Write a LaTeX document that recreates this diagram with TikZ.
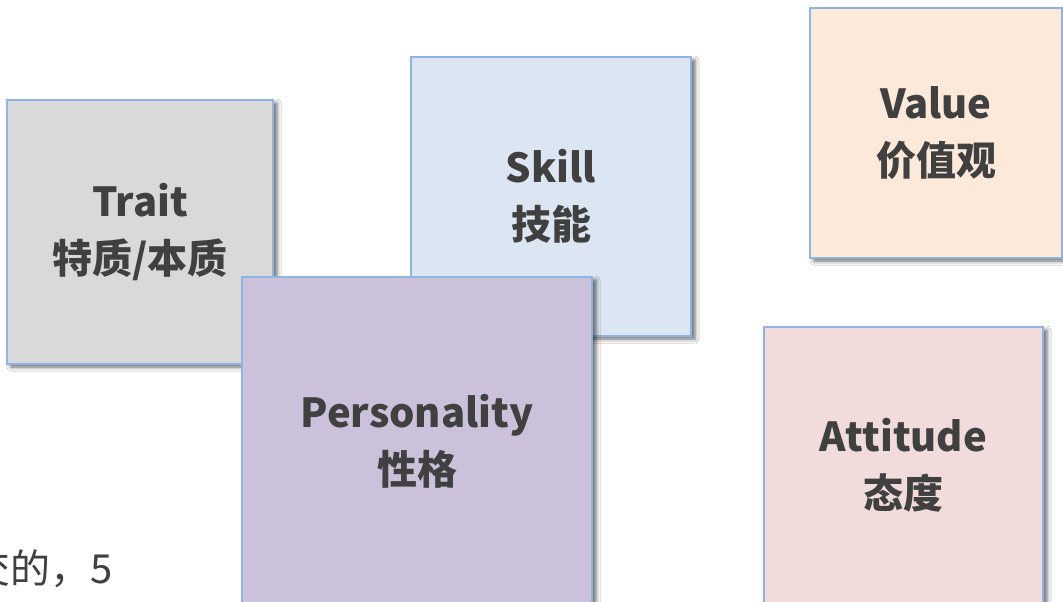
\documentclass[tikz,border=0pt]{standalone}
\usepackage{fontspec}
\newfontfamily\cjk{Noto Sans CJK SC}
\usetikzlibrary{shadows.blur}
\definecolor{txt}{HTML}{404040}
\definecolor{edge}{HTML}{8EB4E3}
\definecolor{fTrait}{HTML}{D9D9D9}
\definecolor{fSkill}{HTML}{DCE6F2}
\definecolor{fValue}{HTML}{FDE9D9}
\definecolor{fAtt}{HTML}{F2DCDB}
\definecolor{fPers}{HTML}{CCC1DA}
\tikzset{
  card/.style={draw=edge, line width=1.5pt, inner sep=0pt, align=center,
    text=txt, font=\cjk\bfseries\fontsize{40}{57}\selectfont,
    blur shadow={shadow xshift=4pt, shadow yshift=-3pt, shadow blur radius=4pt, shadow opacity=60}},
  note/.style={inner sep=0pt, anchor=base west, text=txt, font=\cjk\fontsize{40}{48}\selectfont}
}
\begin{document}
\begin{tikzpicture}[x=1pt,y=-1pt]
\useasboundingbox (0,0) rectangle (1063,602);
\clip (0,0) rectangle (1063,602);
\fill[white] (0,0) rectangle (1063,602);
\node[card, fill=fTrait, minimum width=266pt, minimum height=264pt] (trait) at (140,232) {Trait\\特质/本质};
\node[card, fill=fSkill, minimum width=280pt, minimum height=279pt] (skill) at (551,196.5) {Skill\\技能};
\node[card, fill=fValue, minimum width=252pt, minimum height=250pt] (value) at (936,133) {Value\\价值观};
\node[card, fill=fAtt, minimum width=279pt, minimum height=276pt] (attitude) at (903.5,465) {Attitude\\态度};
\node[card, fill=fPers, minimum width=350pt, minimum height=328pt] (personality) at (417,441) {Personality\\性格};
\node[note] (tail) at (-30,583) {交的，5};
\end{tikzpicture}
\end{document}
